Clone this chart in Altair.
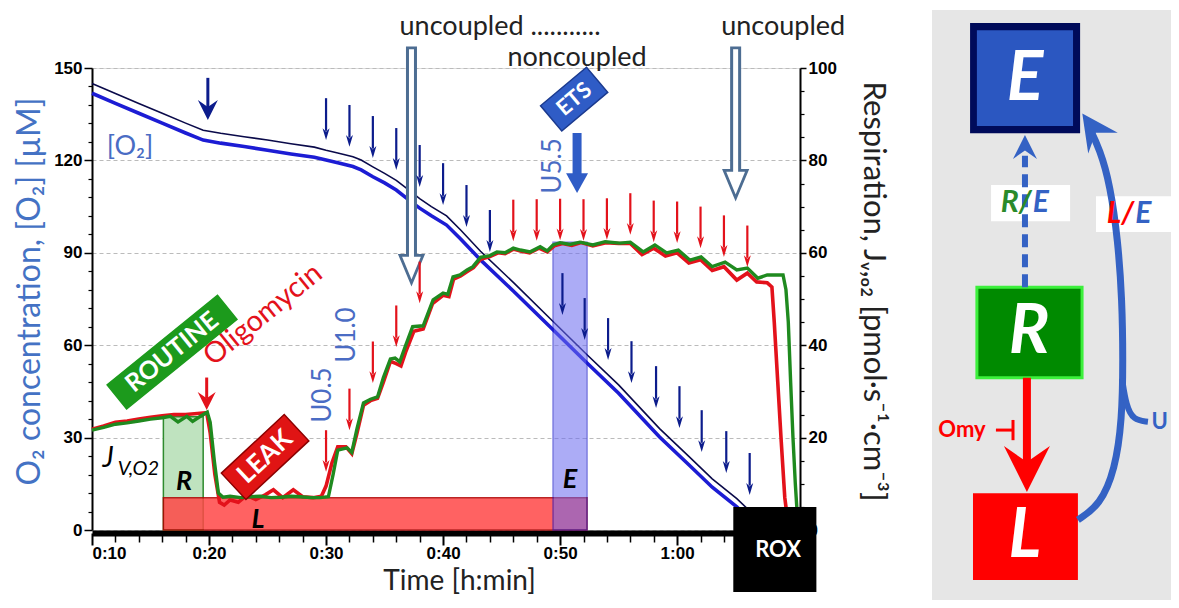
import altair as alt
import pandas as pd

# ------------------------------------------------------------------
# axis domains
X_DOMAIN = [10, 70.5]        # minutes (0:10 ... ~1:10)
O2_DOMAIN = [0, 150]         # µM
RESP_DOMAIN = [0, 100]       # pmol s-1 cm-3

# ------------------------------------------------------------------
# O2 concentration traces (two chambers)
o2_time = [10, 12, 14, 16, 18, 19.5, 21, 23, 25, 27, 29, 30, 31, 32.3, 33,
           34, 35, 36, 37.2, 38, 39, 40.3, 41.5, 43.2, 46, 49.4, 52.3, 55,
           58.5, 61, 63, 65.1, 66.5]
o2_chamber_a = [141.8, 138.5, 135.3, 132.1, 128.9, 126.6, 125.6, 124.5, 123.3,
                122.1, 121.0, 120.1, 119.2, 118.0, 116.9, 114.7, 112.7, 110.4,
                106.8, 104.5, 102.0, 99.0, 94.5, 87.7, 77.6, 65.0, 54.2, 44.4,
                30.2, 21.2, 13.9, 7.5, 2.4]
o2_chamber_b = [145.0, 141.7, 138.5, 135.3, 132.1, 129.8, 128.8, 127.7, 126.6,
                125.4, 124.3, 123.3, 122.4, 121.2, 120.1, 117.9, 115.8, 113.5,
                110.0, 107.6, 105.0, 102.0, 97.4, 90.5, 80.4, 67.7, 56.9, 47.1,
                32.9, 23.9, 16.6, 10.2, 5.1]

# respiration traces
green_time = [10.0, 11.0, 12.0, 13.0, 14.0, 15.0, 16.0, 16.7, 17.35, 18.1,
              18.6, 19.2, 19.85, 20.1, 20.45, 20.8, 21.2, 21.8, 22.7, 23.5,
              24.4, 25.3, 26.1, 27.0, 27.8, 28.7, 29.5, 30.2, 30.6, 31.0,
              31.8, 32.2, 32.65, 33.2, 33.8, 34.4, 34.9, 35.5, 35.9, 36.3,
              36.75, 37.4, 38.3, 39.15, 40.0, 40.4, 40.85, 41.45, 42.05, 42.55,
              43.2, 44.0, 44.6, 45.3, 46.0, 46.6, 47.45, 48.3, 48.9, 49.4,
              50.0, 50.85, 51.7, 52.8, 53.85, 55.1, 56.0, 57.1, 58.1, 59.1,
              60.1, 61.1, 62.05, 63.0, 64.1, 65.1, 66.0, 66.9, 67.7, 69.05,
              69.3, 69.5, 69.7, 69.9, 70.1, 70.3]
green_flux = [21.6, 22.2, 22.9, 23.2, 23.6, 24.0, 24.3, 24.6, 23.4, 24.6,
              23.5, 24.5, 25.5, 23.3, 15.0, 8.0, 7.1, 7.3, 7.0, 7.2,
              7.3, 7.0, 7.1, 7.3, 7.2, 7.0, 7.0, 7.2, 12.0, 17.3,
              17.8, 16.8, 22.0, 27.5, 28.3, 28.8, 33.0, 37.0, 37.2, 36.4,
              39.6, 44.0, 44.2, 49.8, 51.3, 51.0, 54.8, 55.2, 56.3, 57.0,
              59.0, 59.4, 60.2, 60.0, 61.0, 60.6, 60.2, 61.3, 60.4, 61.7,
              62.2, 61.8, 62.3, 61.7, 62.4, 62.1, 62.3, 60.2, 61.7, 60.0,
              60.6, 58.4, 59.1, 57.0, 58.0, 56.3, 56.7, 54.5, 55.2, 55.2,
              52.0, 45.0, 32.0, 20.0, 10.0, 2.0]
red_time = [10.0, 11.0, 12.0, 13.0, 14.0, 15.0, 16.0, 17.0, 18.0, 19.0,
            19.8, 20.1, 20.5, 20.9, 21.3, 21.8, 22.5, 23.2, 24.0, 24.8,
            25.5, 26.3, 27.2, 28.0, 28.9, 29.6, 30.0, 30.5, 31.0, 31.7,
            32.2, 32.6, 33.2, 33.8, 34.4, 34.9, 35.5, 36.0, 36.4, 36.8,
            37.5, 38.3, 39.1, 40.0, 40.5, 40.9, 41.5, 42.1, 42.6, 43.2,
            44.0, 44.7, 45.3, 46.0, 46.6, 47.4, 48.2, 48.9, 49.5, 50.2,
            51.0, 51.8, 52.8, 53.9, 55.0, 56.0, 57.0, 58.0, 59.0, 60.0,
            61.0, 62.0, 63.0, 64.0, 65.1, 66.0, 66.8, 67.7, 68.1, 68.3,
            68.6, 68.9, 69.2, 69.5]
red_flux = [21.8, 22.5, 23.3, 23.6, 24.0, 24.4, 24.7, 25.0, 25.0, 25.2,
            25.4, 21.0, 12.0, 6.0, 5.4, 6.5, 6.0, 7.5, 6.6, 7.6,
            8.7, 7.0, 8.7, 7.2, 7.0, 7.3, 9.5, 14.5, 18.0, 18.0,
            16.5, 20.5, 27.0, 28.0, 28.5, 32.0, 36.5, 36.0, 35.5, 38.5,
            43.0, 43.5, 49.0, 50.8, 50.5, 54.3, 55.0, 56.0, 56.8, 58.6,
            59.2, 60.0, 59.8, 60.8, 60.4, 60.0, 61.0, 60.2, 61.5, 62.0,
            61.6, 62.2, 61.5, 62.2, 62.0, 62.0, 59.6, 61.0, 59.3, 60.0,
            57.8, 58.5, 56.2, 57.0, 54.1, 55.6, 53.7, 53.5, 52.6, 45.0,
            32.0, 19.0, 7.0, 1.0]

# titration arrows (O2 scale)
navy_step_time = [30, 32, 34, 36, 38, 40, 42, 44, 50.2, 52.1, 54.1, 56.1,
                  58.2, 60.2, 62.1, 64.2, 66.2]
navy_step_tip = [126.6, 124.4, 120.8, 116.9, 111.4, 105.5, 98.4, 90.3, 69.8,
                 61.7, 55.2, 47.7, 39.6, 33.1, 25.3, 18.5, 11.4]
navy_step_top = [t + 13.6 for t in navy_step_tip]
navy_big_time = [19.9]
navy_big_top = [146.8]
navy_big_tip = [133.1]

# titration arrows (respiration scale)
red_step_time = [30, 32, 34, 36, 38, 46, 48, 50, 52, 54, 56, 58, 60, 62, 64, 66]
red_step_tip = [12.6, 21.6, 31.8, 39.6, 49.1, 62.5, 62.6, 62.7, 62.6, 62.8,
                63.9, 62.3, 62.1, 61.0, 59.1, 56.9]
red_step_top = [t + 9.0 for t in red_step_tip]
oligo_time = [19.8]
oligo_top = [33.0]
oligo_tip = [26.0]

# big hollow "uncoupled" arrows (O2 scale)
hollow_time = [37.3, 65.0]
hollow_top = [157.0, 157.0]
hollow_tip = [80.2, 107.8]

# ETS thick arrow (O2 scale)
ets_time = [51.45]
ets_top = [128.9]
ets_tip = [109.4]

# state boxes (respiration scale)
box_name = ["R", "L", "E"]
box_t0 = [16.1, 16.1, 49.4]
box_t1 = [19.5, 52.3, 52.3]
box_top = [24.5, 7.0, 62.3]
box_fill = ["#bfe3bf", "#ff4747", "#6a6af0"]
box_stroke = ["#2e8b2e", "#b00000", "#1414c8"]
box_opacity = [1.0, 0.85, 0.55]
rox_t0, rox_t1, rox_v0, rox_v1 = [64.8], [71.9], [-13.4], [5.0]

TIME_EXPR = ("floor(datum.value/60) + ':' + (datum.value % 60 < 10 ? '0' : '')"
             " + (datum.value % 60)")

# ------------------------------------------------------------------
FONT = "Lato"
TICKFONT = "Liberation Sans"


def xq(field, axis):
    return alt.X(f"{field}:Q", axis=axis,
                 scale=alt.Scale(domain=X_DOMAIN, nice=False, zero=False))


def yq(field, domain, axis):
    return alt.Y(f"{field}:Q", axis=axis,
                 scale=alt.Scale(domain=domain, nice=False, zero=False))


AX_X_MAJOR = alt.Axis(orient="bottom", values=[10, 20, 30, 40, 50, 60],
                      labelExpr=TIME_EXPR, title="Time [h:min]",
                      titleFont=FONT, titleFontSize=28, titleFontWeight="normal",
                      titleColor="#222222", titlePadding=6, titleX=367,
                      labelFont=TICKFONT, labelFontSize=17, labelFontWeight="bold",
                      labelColor="black", labelPadding=0,
                      tickSize=12, tickWidth=2, tickColor="black",
                      domainWidth=6, domainColor="black", offset=3, grid=False)
AX_Y_LEFT = alt.Axis(orient="left", values=[0, 30, 60, 90, 120, 150],
                     title="O₂ concentration, [O₂] [µM]",
                     titleFont=FONT, titleFontSize=32, titleFontWeight="normal",
                     titleColor="#4472c4", titlePadding=7, titleY=223,
                     labelFont=TICKFONT, labelFontSize=17, labelFontWeight="bold",
                     labelColor="black", labelPadding=2,
                     tickSize=8, tickWidth=1.5, tickColor="black",
                     domainWidth=2, domainColor="black",
                     grid=True, gridDash=[4, 3], gridColor="#bbbbbb", gridWidth=1)
AX_X_MINOR = alt.Axis(orient="bottom",
                      values=[v for v in range(12, 70, 2) if v % 10],
                      labels=False, domain=False, tickSize=9, tickWidth=1.5,
                      tickColor="black", offset=3, title=None, grid=False)
AX_Y_RIGHT = alt.Axis(orient="right", values=[0, 20, 40, 60, 80, 100],
                      title="Respiration, Jᵥ,ₒ₂ [pmol·s⁻¹·cm⁻³]",
                      titleFont=FONT, titleFontSize=31, titleFontWeight="normal",
                      titleColor="#222222", titlePadding=20, titleY=223,
                      labelFont=TICKFONT, labelFontSize=17, labelFontWeight="bold",
                      labelColor="black", labelPadding=2,
                      tickSize=6, tickWidth=1.5, tickColor="black",
                      domainWidth=2, domainColor="black", grid=False)
AX_Y_LEFT_MINOR = alt.Axis(orient="left",
                           values=[v for v in range(6, 150, 6) if v % 30],
                           labels=False, domain=False, tickSize=4, tickWidth=1.2,
                           tickColor="black", title=None, grid=False)
AX_Y_RIGHT_MINOR = alt.Axis(orient="right",
                            values=[v for v in range(5, 100, 5) if v % 20],
                            labels=False, domain=False, tickSize=4, tickWidth=1.2,
                            tickColor="black", title=None, grid=False)


def ox(field):
    return xq(field, AX_X_MAJOR)


def oy(field):
    return yq(field, O2_DOMAIN, AX_Y_LEFT)


def rx(field):
    return xq(field, AX_X_MINOR)


def ry(field):
    return yq(field, RESP_DOMAIN, AX_Y_RIGHT)


def tag(t, v, label, w, h, angle, fill, stroke, fsize, X, Y):
    df = pd.DataFrame({"t": [t], "v": [v], "label": [label]})
    r = h / w
    path = f"M-1,-{r:.3f}L1,-{r:.3f}L1,{r:.3f}L-1,{r:.3f}Z"
    box = alt.Chart(df).mark_point(shape=path, size=w * w, filled=True, fill=fill,
                                   stroke=stroke, strokeWidth=1.5, opacity=1,
                                   angle=angle).encode(x=X("t"), y=Y("v"))
    txt = alt.Chart(df).mark_text(font=FONT, fontSize=fsize, fontWeight="bold",
                                  color="white", angle=angle, baseline="middle",
                                  align="center").encode(x=X("t"), y=Y("v"),
                                                         text="label:N")
    return [box, txt]


SMALL_HEAD = "M-1,-3.4L0,0L1,-3.4L0,-2.4Z"
BARB_HEAD = "M-1,-2L0,0L1,-2L0,-1.3Z"
TRI_HEAD = "M-1,-2.4L1,-2.4L0,0Z"

# ------------------------------------------------------------------
# Group A: O2 scale (left axis, major time axis)
o2_df = pd.DataFrame({"t": o2_time, "a": o2_chamber_a, "b": o2_chamber_b})
hol = pd.DataFrame({"t": hollow_time, "top": hollow_top, "tip": hollow_tip})
hol["base"] = hol["tip"] + 8.6
hol["itop"] = hol["top"] - 0.9
hol["ibase"] = hol["base"] - 1.0
HOL_C = "#4d6d92"

ets = pd.DataFrame({"t": ets_time, "top": ets_top, "tip": ets_tip})
ets["base"] = ets["tip"] + 5.0

top_text = pd.DataFrame({"t": [44.87, 51.45, 69.06], "v": [163.3, 153.4, 163.3],
                         "label": ["uncoupled ...........", "noncoupled",
                                   "uncoupled"]})
o2_label = pd.DataFrame({"t": [13.25], "v": [124.4], "label": ["[O₂]"]})
u55 = pd.DataFrame({"t": [49.4], "v": [118.2], "label": ["U5.5"]})

layers_a = [
    alt.Chart(o2_df).mark_line(color="#0a0a4a", strokeWidth=1.6).encode(
        x=ox("t"), y=oy("b")),
    alt.Chart(o2_df).mark_line(color="#1c1cd4", strokeWidth=3.6).encode(
        x=ox("t"), y=oy("a")),
    alt.Chart(hol).mark_rule(color=HOL_C, strokeWidth=11).encode(
        x=ox("t"), y=oy("top"), y2="base"),
    alt.Chart(hol).mark_point(shape=TRI_HEAD, size=529, filled=True, fill="white",
                              stroke=HOL_C, strokeWidth=2.8, opacity=1).encode(
        x=ox("t"), y=oy("tip")),
    alt.Chart(hol).mark_rule(color="white", strokeWidth=5).encode(
        x=ox("t"), y=oy("itop"), y2="ibase"),
    alt.Chart(ets).mark_rule(color="#2f5cc6", strokeWidth=9).encode(
        x=ox("t"), y=oy("top"), y2="base"),
    alt.Chart(ets).mark_point(shape="M-1,-1.8L1,-1.8L0,0Z", size=484, filled=True,
                              color="#2f5cc6", opacity=1).encode(
        x=ox("t"), y=oy("tip")),
    alt.Chart(top_text).mark_text(font=FONT, fontSize=27, color="#222222",
                                  baseline="middle").encode(
        x=ox("t"), y=oy("v"), text="label:N"),
    alt.Chart(o2_label).mark_text(font=FONT, fontSize=27, color="#4a6cc4",
                                  baseline="middle").encode(
        x=ox("t"), y=oy("v"), text="label:N"),
    alt.Chart(u55).mark_text(font=FONT, fontSize=26, color="#4a6cc4", angle=270,
                             baseline="middle").encode(
        x=ox("t"), y=oy("v"), text="label:N"),
] + tag(51.2, 139.9, "ETS", 60, 33, 320, "#2f5cc6", "#1b3a8f", 22, ox, oy)
group_a = alt.layer(*layers_a)

# ------------------------------------------------------------------
# Group B: respiration scale (right axis, minor time ticks)
boxes = pd.DataFrame({"name": box_name, "t0": box_t0, "t1": box_t1,
                      "v0": [0, 0, 0], "v1": box_top, "fill": box_fill,
                      "stroke": box_stroke, "op": box_opacity})
green_df = pd.DataFrame({"t": green_time, "v": green_flux})
red_df = pd.DataFrame({"t": red_time, "v": red_flux})
rox = pd.DataFrame({"t0": rox_t0, "t1": rox_t1, "v0": rox_v0, "v1": rox_v1})
rox_lbl = pd.DataFrame({"t": [68.63], "v": [-4.3], "label": ["ROX"]})
state_lbl = pd.DataFrame({"t": [17.86, 24.19, 50.85], "v": [10.4, 2.2, 10.8],
                          "label": ["R", "L", "E"]})
uc_lbl = pd.DataFrame({"t": [29.74, 31.79], "v": [29.2, 42.2],
                       "label": ["U0.5", "U1.0"]})
oligo_lbl = pd.DataFrame({"t": [24.6], "v": [46.6], "label": ["Oligomycin"]})
j_lbl = pd.DataFrame({"t": [11.37], "v": [15.4], "label": ["J"]})
j_sub = pd.DataFrame({"t": [12.2], "v": [13.2], "label": ["V,O2"]})

layers_b = [
    alt.Chart(boxes).mark_rect(strokeWidth=1.5).encode(
        x=rx("t0"), x2="t1", y=ry("v0"), y2="v1",
        fill=alt.Fill("fill:N", scale=None),
        stroke=alt.Stroke("stroke:N", scale=None),
        opacity=alt.Opacity("op:Q", scale=None)),
    alt.Chart(red_df).mark_line(color="#e3121b", strokeWidth=3.6).encode(
        x=rx("t"), y=ry("v")),
    alt.Chart(green_df).mark_line(color="#1f8a1f", strokeWidth=3.4).encode(
        x=rx("t"), y=ry("v")),
    alt.Chart(rox).mark_rect(color="black").encode(
        x=rx("t0"), x2="t1", y=ry("v0"), y2="v1"),
    alt.Chart(rox_lbl).mark_text(font=FONT, fontSize=22, fontWeight="bold",
                                 color="white", baseline="middle").encode(
        x=rx("t"), y=ry("v"), text="label:N"),
    alt.Chart(state_lbl).mark_text(font=FONT, fontSize=27, fontWeight="bold",
                                   fontStyle="italic", color="black",
                                   baseline="middle").encode(
        x=rx("t"), y=ry("v"), text="label:N"),
    alt.Chart(uc_lbl).mark_text(font=FONT, fontSize=26, color="#4a6cc4", angle=270,
                                baseline="middle").encode(
        x=rx("t"), y=ry("v"), text="label:N"),
    alt.Chart(oligo_lbl).mark_text(font=FONT, fontSize=29, color="#e3121b",
                                   angle=321, baseline="middle").encode(
        x=rx("t"), y=ry("v"), text="label:N"),
    alt.Chart(j_lbl).mark_text(font=FONT, fontSize=28, fontStyle="italic",
                               color="black", baseline="middle").encode(
        x=rx("t"), y=ry("v"), text="label:N"),
    alt.Chart(j_sub).mark_text(font=FONT, fontSize=20, fontStyle="italic",
                               color="black", baseline="middle",
                               align="left").encode(
        x=rx("t"), y=ry("v"), text="label:N"),
] + tag(16.84, 38.5, "ROUTINE", 142, 31, 321, "#1c9a1c", "#1c9a1c", 25, rx, ry) \
  + tag(24.79, 15.8, "LEAK", 86, 36, 317, "#e01414", "#8b0000", 26, rx, ry)
group_b = alt.layer(*layers_b)

# ------------------------------------------------------------------
# Group C: navy arrows (O2 scale, left minor ticks)
NAVY = "#0c1c8c"
navy = pd.DataFrame({"t": navy_step_time, "top": navy_step_top, "tip": navy_step_tip})
navy["base"] = navy["tip"] + 3.0
navy_big = pd.DataFrame({"t": navy_big_time, "top": navy_big_top, "tip": navy_big_tip})
navy_big["base"] = navy_big["tip"] + 4.0


def cx(f):
    return xq(f, None)


def cy(f):
    return yq(f, O2_DOMAIN, AX_Y_LEFT_MINOR)


group_c = alt.layer(
    alt.Chart(navy).mark_rule(color=NAVY, strokeWidth=2.2).encode(
        x=cx("t"), y=cy("top"), y2="base"),
    alt.Chart(navy).mark_point(shape=SMALL_HEAD, size=49, filled=True, color=NAVY,
                               opacity=1).encode(x=cx("t"), y=cy("tip")),
    alt.Chart(navy_big).mark_rule(color=NAVY, strokeWidth=3).encode(
        x=cx("t"), y=cy("top"), y2="base"),
    alt.Chart(navy_big).mark_point(shape=BARB_HEAD, size=400, filled=True,
                                   color=NAVY, opacity=1).encode(
        x=cx("t"), y=cy("tip")),
)

# ------------------------------------------------------------------
# Group D: red arrows (respiration scale, right minor ticks)
RED = "#e3121b"
reds = pd.DataFrame({"t": red_step_time, "top": red_step_top, "tip": red_step_tip})
reds["base"] = reds["tip"] + 2.0
oligo = pd.DataFrame({"t": oligo_time, "top": oligo_top, "tip": oligo_tip})
oligo["base"] = oligo["tip"] + 2.5


def dx(f):
    return xq(f, None)


def dy(f):
    return yq(f, RESP_DOMAIN, AX_Y_RIGHT_MINOR)


group_d = alt.layer(
    alt.Chart(reds).mark_rule(color=RED, strokeWidth=2.2).encode(
        x=dx("t"), y=dy("top"), y2="base"),
    alt.Chart(reds).mark_point(shape=SMALL_HEAD, size=49, filled=True, color=RED,
                               opacity=1).encode(x=dx("t"), y=dy("tip")),
    alt.Chart(oligo).mark_rule(color=RED, strokeWidth=3).encode(
        x=dx("t"), y=dy("top"), y2="base"),
    alt.Chart(oligo).mark_point(shape=BARB_HEAD, size=324, filled=True, color=RED,
                                opacity=1).encode(x=dx("t"), y=dy("tip")),
)

# ------------------------------------------------------------------
# Group E: schematic panel (own 0-100 coordinate system)
diag_rect_x0 = [0, 15.6, 18.4, 18.4, 16.8, 24.2, 67.2]
diag_rect_x1 = [100, 60.7, 57.8, 61.5, 59.8, 56.6, 98.4]
diag_rect_y0 = [0, 2.2, 3.4, 46.6, 81.2, 29.4, 31.3]
diag_rect_y1 = [100, 20.7, 19.5, 61.8, 95.8, 35.5, 37.3]
diag_rect_fill = ["#e6e6e6", "#000b5a", "#2b57c1", "#008a00", "#ff0000",
                  "#ffffff", "#ffffff"]
diag_rect_stroke = ["#e6e6e6", "#000b5a", "#2b57c1", "#3cf03c", "#ff0000",
                    "#ffffff", "#ffffff"]
diag_rect_sw = [0, 0, 0, 3, 0, 0, 0]

diag_big_x = [38.1, 39.8, 38.1]
diag_big_y = [11.8, 54.3, 88.6]
diag_big_txt = ["E", "R", "L"]

curve_x = [59.8, 68.9, 75.0, 77.9, 78.3, 77.9, 76.2, 73.0, 68.9, 63.9]
curve_y = [85.7, 83.2, 77.3, 68.9, 58.8, 48.7, 38.7, 29.4, 23.5, 19.3]
branch_x = [77.9, 79.6, 82.5, 88.5]
branch_y = [62.0, 66.5, 68.9, 69.2]

DXS = alt.Scale(domain=[0, 100], range=[840, 1084], nice=False, zero=False)
DYS = alt.Scale(domain=[0, 100], range=[-58, 537], nice=False, zero=False)


def ex(f):
    return alt.X(f"{f}:Q", scale=DXS, axis=None)


def ey(f):
    return alt.Y(f"{f}:Q", scale=DYS, axis=None)


BLUE = "#3462c4"
drect = pd.DataFrame({"x0": diag_rect_x0, "x1": diag_rect_x1, "y0": diag_rect_y0,
                      "y1": diag_rect_y1, "fill": diag_rect_fill,
                      "stroke": diag_rect_stroke, "sw": diag_rect_sw})
dbig = pd.DataFrame({"x": diag_big_x, "y": diag_big_y, "label": diag_big_txt})
curve = pd.DataFrame({"x": curve_x, "y": curve_y, "i": range(len(curve_x))})
branch = pd.DataFrame({"x": branch_x, "y": branch_y, "i": range(len(branch_x))})
curve_head = pd.DataFrame({"x": [61.6], "y": [17.4]})
dash = pd.DataFrame({"x": [38.1], "y": [46.6], "y2": [24.5]})
dash_head = pd.DataFrame({"x": [38.1], "y": [21.0]})
red_arr = pd.DataFrame({"x": [38.9], "y": [61.8], "y2": [76.0]})
red_head = pd.DataFrame({"x": [38.9], "y": [81.0]})
inhib_h = pd.DataFrame({"x": [26.2], "x2": [32.8], "y": [70.6]})
inhib_v = pd.DataFrame({"x": [33.2], "y": [68.9], "y2": [72.3]})
omy = pd.DataFrame({"x": [12.3], "y": [70.6], "label": ["Omy"]})
u_lbl = pd.DataFrame({"x": [90.0], "y": [69.2], "label": ["U"]})
ratio_left = pd.DataFrame({"x": [40.8, 82.8], "y": [32.4, 34.3],
                           "label": ["R/", "L/"], "c": ["#2a8a2a", "#ff0000"]})
ratio_right = pd.DataFrame({"x": [41.3, 83.3], "y": [32.4, 34.3],
                            "label": ["E", "E"], "c": [BLUE, BLUE]})

UP_BARB = "M-1,2L0,0L1,2L0,1.3Z"

group_e = alt.layer(
    alt.Chart(drect).mark_rect().encode(
        x=ex("x0"), x2="x1", y=ey("y0"), y2="y1",
        fill=alt.Fill("fill:N", scale=None),
        stroke=alt.Stroke("stroke:N", scale=None),
        strokeWidth=alt.StrokeWidth("sw:Q", scale=None)),
    alt.Chart(dbig).mark_text(font=FONT, fontSize=68, fontWeight="bold",
                              fontStyle="italic", color="white",
                              baseline="middle").encode(
        x=ex("x"), y=ey("y"), text="label:N"),
    alt.Chart(dash).mark_rule(color=BLUE, strokeWidth=6, strokeDash=[13, 7]).encode(
        x=ex("x"), y=ey("y"), y2="y2"),
    alt.Chart(dash_head).mark_point(shape=UP_BARB, size=576, filled=True,
                                    color=BLUE, opacity=1).encode(
        x=ex("x"), y=ey("y")),
    alt.Chart(red_arr).mark_rule(color="#ff0000", strokeWidth=8).encode(
        x=ex("x"), y=ey("y"), y2="y2"),
    alt.Chart(red_head).mark_point(shape=BARB_HEAD, size=2116, filled=True,
                                   color="#ff0000", opacity=1).encode(
        x=ex("x"), y=ey("y")),
    alt.Chart(inhib_h).mark_rule(color="#ff0000", strokeWidth=3).encode(
        x=ex("x"), x2="x2", y=ey("y")),
    alt.Chart(inhib_v).mark_rule(color="#ff0000", strokeWidth=3).encode(
        x=ex("x"), y=ey("y"), y2="y2"),
    alt.Chart(omy).mark_text(font=FONT, fontSize=22, fontWeight="bold",
                             color="#ff0000", baseline="middle").encode(
        x=ex("x"), y=ey("y"), text="label:N"),
    alt.Chart(curve).mark_line(interpolate="basis", color=BLUE, strokeWidth=7).encode(
        x=ex("x"), y=ey("y"), order="i:Q"),
    alt.Chart(branch).mark_line(interpolate="basis", color=BLUE, strokeWidth=6).encode(
        x=ex("x"), y=ey("y"), order="i:Q"),
    alt.Chart(curve_head).mark_point(shape=UP_BARB, size=1300, filled=True,
                                     color=BLUE, opacity=1, angle=325).encode(
        x=ex("x"), y=ey("y")),
    alt.Chart(u_lbl).mark_text(font=FONT, fontSize=22, fontWeight="bold", color=BLUE,
                               align="left", baseline="middle").encode(
        x=ex("x"), y=ey("y"), text="label:N"),
    alt.Chart(ratio_left).mark_text(font=FONT, fontSize=30, fontWeight="bold",
                                    fontStyle="italic", align="right",
                                    baseline="middle").encode(
        x=ex("x"), y=ey("y"), text="label:N", color=alt.Color("c:N", scale=None)),
    alt.Chart(ratio_right).mark_text(font=FONT, fontSize=30, fontWeight="bold",
                                     fontStyle="italic", align="left",
                                     baseline="middle").encode(
        x=ex("x"), y=ey("y"), text="label:N", color=alt.Color("c:N", scale=None)),
)

# ------------------------------------------------------------------
chart = alt.layer(group_a, group_b, group_c, group_d, group_e).resolve_scale(
    x="independent", y="independent"
).properties(
    width=708, height=462,
    autosize=alt.AutoSizeParams(type="none"),
    padding={"left": 84, "top": 60, "right": 371, "bottom": 70},
).configure_view(stroke="#777777", strokeWidth=1).configure(background="white")

chart.save("out.html", embed_options={"renderer": "svg", "actions": False})
